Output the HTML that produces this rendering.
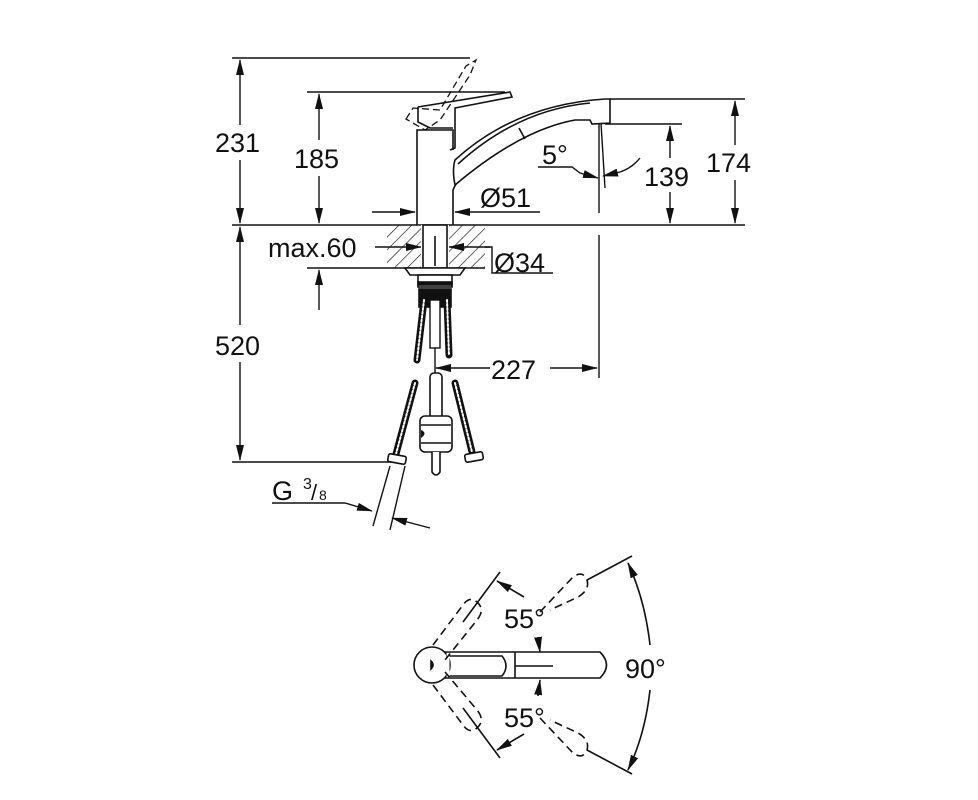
<!DOCTYPE html>
<html><head><meta charset="utf-8"><style>
html,body{margin:0;padding:0;background:#fff}
svg{display:block}
text{font-family:"Liberation Sans",sans-serif;fill:#111}
</style></head><body>
<svg width="978" height="800" viewBox="0 0 978 800" xmlns="http://www.w3.org/2000/svg">
<defs>
<marker id="a" markerWidth="16" markerHeight="8" refX="15" refY="4" orient="auto" markerUnits="userSpaceOnUse"><path d="M0,0 L16,4 L0,8 z" fill="#111"/></marker>
<pattern id="h" width="9" height="9" patternUnits="userSpaceOnUse" patternTransform="rotate(45)"><line x1="0" y1="0" x2="0" y2="9" stroke="#111" stroke-width="1.3"/></pattern>
</defs>
<g stroke="#111" stroke-width="1.4" fill="none">
<line x1="232" y1="58" x2="470" y2="58"/>
<line x1="307" y1="92" x2="505" y2="92"/>
<line x1="232" y1="225" x2="745" y2="225"/>
<line x1="610" y1="99" x2="745" y2="99"/>
<line x1="605" y1="124" x2="682" y2="124"/>
<line x1="307" y1="268" x2="485" y2="268"/>
<line x1="232" y1="462" x2="392" y2="462"/>
<line x1="240" y1="125" x2="240" y2="60" marker-end="url(#a)"/>
<line x1="240" y1="160" x2="240" y2="223" marker-end="url(#a)"/>
<line x1="319" y1="140" x2="319" y2="94" marker-end="url(#a)"/>
<line x1="319" y1="176" x2="319" y2="223" marker-end="url(#a)"/>
<line x1="735" y1="145" x2="735" y2="101" marker-end="url(#a)"/>
<line x1="735" y1="180" x2="735" y2="223" marker-end="url(#a)"/>
<line x1="670" y1="158" x2="670" y2="126" marker-end="url(#a)"/>
<line x1="670" y1="192" x2="670" y2="223" marker-end="url(#a)"/>
<line x1="240" y1="325" x2="240" y2="227" marker-end="url(#a)"/>
<line x1="240" y1="362" x2="240" y2="460" marker-end="url(#a)"/>
<line x1="319" y1="310" x2="319" y2="270" marker-end="url(#a)"/>
<line x1="599" y1="123" x2="599" y2="213"/>
<line x1="601" y1="123" x2="605" y2="188"/>
<line x1="599" y1="235" x2="599" y2="378"/>
<path d="M538,167 L572,167 L580,173 L598,178" marker-end="url(#a)"/>
<path d="M640,158 Q632,168 620,172 L603,176" marker-end="url(#a)"/>
<line x1="372" y1="212" x2="415" y2="212" marker-end="url(#a)"/>
<line x1="540" y1="212" x2="455" y2="212" marker-end="url(#a)"/>
<line x1="375" y1="247" x2="421" y2="247" marker-end="url(#a)"/>
<line x1="490" y1="247" x2="449" y2="247" marker-end="url(#a)"/>
<path d="M485,247 L492,247 L492,273 L553,273"/>
<line x1="490" y1="368" x2="436" y2="368" marker-end="url(#a)"/>
<line x1="550" y1="368" x2="597" y2="368" marker-end="url(#a)"/>
<path d="M272,503 L345,503 L372,511" marker-end="url(#a)"/>
<line x1="430" y1="528" x2="392" y2="518" marker-end="url(#a)"/>
<line x1="390" y1="466" x2="373" y2="526"/>
<line x1="405" y1="466" x2="390" y2="530"/>
</g>
<rect x="387" y="225" width="98" height="43" fill="url(#h)"/>
<rect x="421" y="225" width="28" height="43" fill="#fff"/>
<g stroke="#111" stroke-width="1.6" fill="none">
<rect x="423" y="225" width="24" height="43"/>
<line x1="435" y1="236" x2="435" y2="266"/>
<path d="M405,268 L465,268 L460,275 L410,275 Z" fill="#fff"/>
<rect x="418" y="275" width="34" height="12" fill="#fff"/>
<rect x="418" y="282" width="34" height="3" fill="#111"/>
<rect x="419" y="289" width="32" height="18" fill="#111"/>
<path d="M417,225 L417,130 L453,130 L453,150"/>
<path d="M453,225 L453,190 Q456,183 458,182"/>
<path d="M418,107 L510,92 L512,97 L455,108 L455,148 L450,150" />
<path d="M418,107 L418,122 L430,128 L453,128"/>
<path d="M406,119 L413,108 L440,110 L466,66 L476,60 L470,75 L440,120 L425,130 Z" stroke-dasharray="7,4" stroke-width="1.3"/>
<path d="M455,160 Q515,105 605,99 L610,99 L610,123 L592,124 L590,120 L575,120 Q520,130 455,185 Q452,170 455,160 Z" fill="#fff"/>
<path d="M458,164 Q517,110 590,103"/>
<line x1="519" y1="128" x2="525" y2="139"/>
</g>
<g stroke-linecap="round">
<line x1="424" y1="300" x2="417" y2="360" stroke="#111" stroke-width="7"/>
<line x1="424" y1="300" x2="417" y2="360" stroke="#fff" stroke-width="2" stroke-dasharray="2,2"/>
<line x1="447" y1="300" x2="449" y2="355" stroke="#111" stroke-width="7"/>
<line x1="447" y1="300" x2="449" y2="355" stroke="#fff" stroke-width="2" stroke-dasharray="2,2"/>
<rect x="430" y="300" width="10" height="48" fill="#fff" stroke="#111" stroke-width="1.4"/>
<line x1="435" y1="348" x2="435" y2="375" stroke="#111" stroke-width="1.4"/>
<line x1="415" y1="383" x2="396" y2="454" stroke="#111" stroke-width="7"/>
<line x1="415" y1="383" x2="396" y2="454" stroke="#fff" stroke-width="2" stroke-dasharray="2,2"/>
<line x1="455" y1="383" x2="472" y2="452" stroke="#111" stroke-width="7"/>
<line x1="455" y1="383" x2="472" y2="452" stroke="#fff" stroke-width="2" stroke-dasharray="2,2"/>
</g>
<g stroke="#111" stroke-width="1.6" fill="#fff">
<rect x="388" y="455" width="18" height="8" rx="2" transform="rotate(10 397 459)"/>
<rect x="465" y="453" width="18" height="8" rx="2" transform="rotate(-10 474 457)"/>
<rect x="430" y="373" width="12" height="46" rx="4"/>
<rect x="420" y="416" width="32" height="36" rx="5"/>
<line x1="421" y1="425" x2="451" y2="425"/>
<line x1="421" y1="443" x2="451" y2="443"/>
<path d="M432,452 L432,472 Q436,478 440,472 L440,452"/>
</g>
<path d="M421,430 Q428,433 421,438 Z" fill="#111"/>
<g font-size="27">
<text x="215" y="152">231</text>
<text x="294" y="168">185</text>
<text x="706" y="172">174</text>
<text x="644" y="186">139</text>
<text x="542" y="164">5°</text>
<text x="480" y="207">Ø51</text>
<text x="268" y="257">max.60</text>
<text x="494" y="272">Ø34</text>
<text x="215" y="355">520</text>
<text x="491" y="379">227</text>
<text x="272" y="500">G</text>
<text x="504" y="628">55°</text>
<text x="504" y="727">55°</text>
<text x="625" y="678">90°</text>
</g>
<text x="303" y="489" font-size="16">3</text>
<text x="311" y="500" font-size="22">/</text>
<text x="319" y="500" font-size="14">8</text>
<g stroke="#111" stroke-width="1.6" fill="none">
<path d="M440,652 L600,652 Q613,665 600,678 L440,678 Z" fill="#fff"/>
<circle cx="432" cy="665" r="18" fill="#fff"/>
<path d="M446,656 L502,656 Q510,666 502,676 L446,676"/>
<line x1="448" y1="653" x2="448" y2="677" stroke="#fff" stroke-width="3"/>
<line x1="515" y1="652" x2="515" y2="678"/>
<line x1="515" y1="666" x2="553" y2="666"/>
<path d="M431,661 Q435,665 431,669 Z" fill="#111"/>
<g stroke-dasharray="8,5">
<path d="M433,645 L463,605 Q470,595 478,603 Q485,610 477,620 L445,660"/>
<path d="M433,685 L463,725 Q470,735 478,727 Q485,720 477,710 L445,672"/>
<path d="M540,612 L573,577 Q583,570 587,580 Q590,590 578,597 L550,610"/>
<path d="M540,718 L573,753 Q583,760 587,750 Q590,740 578,733 L550,720"/>
</g>
<line x1="500" y1="572" x2="463" y2="622"/>
<line x1="500" y1="758" x2="463" y2="708"/>
<line x1="587" y1="580" x2="632" y2="556"/>
<line x1="587" y1="750" x2="632" y2="774"/>
<path d="M524,597 L497,581" marker-end="url(#a)"/>
<path d="M524,734 L497,750" marker-end="url(#a)"/>
<path d="M538,637 L540,652" marker-end="url(#a)"/>
<path d="M538,696 L540,680" marker-end="url(#a)"/>
<path d="M650,645 Q645,600 628,563" marker-end="url(#a)"/>
<path d="M650,690 Q645,735 628,770" marker-end="url(#a)"/>
</g>
</svg>
</body></html>
